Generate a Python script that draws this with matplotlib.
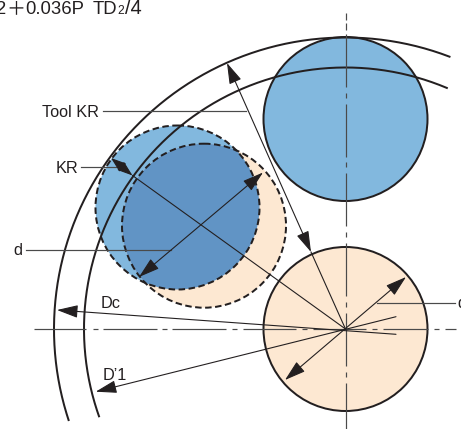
import numpy as np
import matplotlib
matplotlib.use('Agg')
import matplotlib.pyplot as plt
from matplotlib.patches import Circle

plt.rcParams['font.family'] = ['Liberation Sans', 'DejaVu Sans']
plt.rcParams['lines.scale_dashes'] = False

ink = '#231f20'
grey = '#4a4a4a'
blue = '#82b8de'
dark_blue = '#6194c5'
peach = '#fde8d2'

center = (345.5, 329)
radius = 82
tool_center = (345.5, 119)
dashed_blue = (177.5, 207.5)
dashed_peach = (204, 225.7)

# radius, start angle, end angle
outer_arc = [291.5, 69.1, 198.2]
inner_arc = [261.5, 67.2, 199.5]

# (tip, tip) double headed
double_arrows = [
    ((227, 63), (311, 252), 18, 5.5),
    ((263, 172.5), (139, 277), 18, 5.5),
    ((406, 277), (285, 380), 18, 5.5),
    ((111, 158), (132.5, 175.5), 13, 4.5),
]
# (tip, tail) single headed
single_arrows = [
    ((57, 310), (396, 334.3)),
    ((95.7, 391.7), (396, 316.7)),
]
plain_lines = [
    ((311, 252), center),
    ((132.5, 175.5), center),
]
leaders = [
    ((103, 111), (246, 111)),
    ((81, 167), (122, 167)),
    ((26, 250), (171, 250)),
    ((377, 303), (455, 303)),
]
labels = [
    ('Tool KR', 42, 117),
    ('KR', 56, 173),
    ('d', 13, 255),
    ('Dc', 101, 308),
    ('D\u20191', 103, 380),
    ('d', 457, 308),
]
h_spans = [(34, 86), (93, 98), (103, 157), (162, 167), (172, 226), (232, 237),
           (243, 296), (302, 307), (313, 366), (372, 377), (383, 428),
           (434, 439), (445, 456)]
v_spans = [(13, 20), (23, 30), (34, 87), (93, 98), (104, 157), (162, 167),
           (173, 226), (232, 237), (243, 296), (302, 307), (313, 366),
           (372, 377), (383, 429)]

fig = plt.figure(figsize=(461 / 72, 429 / 72), dpi=72)
ax = fig.add_axes([0, 0, 1, 1])
ax.set_xlim(0, 461)
ax.set_ylim(429, 0)
ax.axis('off')

# lower dashed circles, overlap is the darker blue
ax.add_patch(Circle(dashed_blue, radius, fc=blue, ec='none', zorder=1))
peach_disc = Circle(dashed_peach, radius, fc=peach, ec='none', zorder=2)
ax.add_patch(peach_disc)
overlap = Circle(dashed_blue, radius, fc=dark_blue, ec='none', zorder=3)
ax.add_patch(overlap)
overlap.set_clip_path(peach_disc)
for c in [dashed_blue, dashed_peach]:
    ax.add_patch(Circle(c, radius, fc='none', ec=ink, lw=2,
                        ls=(0, (6.5, 3.5)), zorder=4))

ax.add_patch(Circle(tool_center, radius, fc=blue, ec=ink, lw=2, zorder=2))
ax.add_patch(Circle(center, radius, fc=peach, ec=ink, lw=2, zorder=2))

for r, a, b in [outer_arc, inner_arc]:
    t = np.radians(np.linspace(a, b, 300))
    ax.plot(center[0] + r * np.cos(t), center[1] - r * np.sin(t), color=ink, lw=2, zorder=5)

for a, b in h_spans:
    ax.plot([a, b], [center[1], center[1]], color=grey, lw=1.2, zorder=5, solid_capstyle='butt')
for a, b in v_spans:
    ax.plot([center[0], center[0]], [a, b], color=grey, lw=1.2, zorder=5, solid_capstyle='butt')

for a, b in leaders:
    ax.plot([a[0], b[0]], [a[1], b[1]], color=grey, lw=1.2, zorder=5)
for a, b in plain_lines:
    ax.plot([a[0], b[0]], [a[1], b[1]], color=ink, lw=1.1, zorder=6)

for a, b, hl, hw in double_arrows:
    ax.annotate('', xy=a, xytext=b, zorder=7, arrowprops=dict(
        arrowstyle='<|-|>,head_length=%g,head_width=%g' % (hl, hw), mutation_scale=1,
        color=ink, lw=1.1, shrinkA=0, shrinkB=0))
for a, b in single_arrows:
    ax.annotate('', xy=a, xytext=b, zorder=7, arrowprops=dict(
        arrowstyle='-|>,head_length=18,head_width=5.5', mutation_scale=1,
        color=ink, lw=1.1, shrinkA=0, shrinkB=0))

for s, x, y in labels:
    ax.text(x, y, s, fontsize=16.3, color=ink, zorder=8, va='baseline', clip_on=False)

# formula cut off at the top left corner
ax.text(-5, 14, '2', fontsize=18.5, color=ink, va='baseline')
ax.text(6, 14, '\uff0b', fontsize=19, color=ink, va='baseline', family=['Noto Sans CJK SC'], fontweight='light')
ax.text(25, 14, '0.036P', fontsize=18.5, color=ink, va='baseline')
ax.text(93, 14, 'TD', fontsize=18.5, color=ink, va='baseline')
ax.text(117, 14, '2', fontsize=12, color=ink, va='baseline')
ax.text(125, 14, '/4', fontsize=20, color=ink, va='baseline')

fig.savefig('out.png', dpi=72)
